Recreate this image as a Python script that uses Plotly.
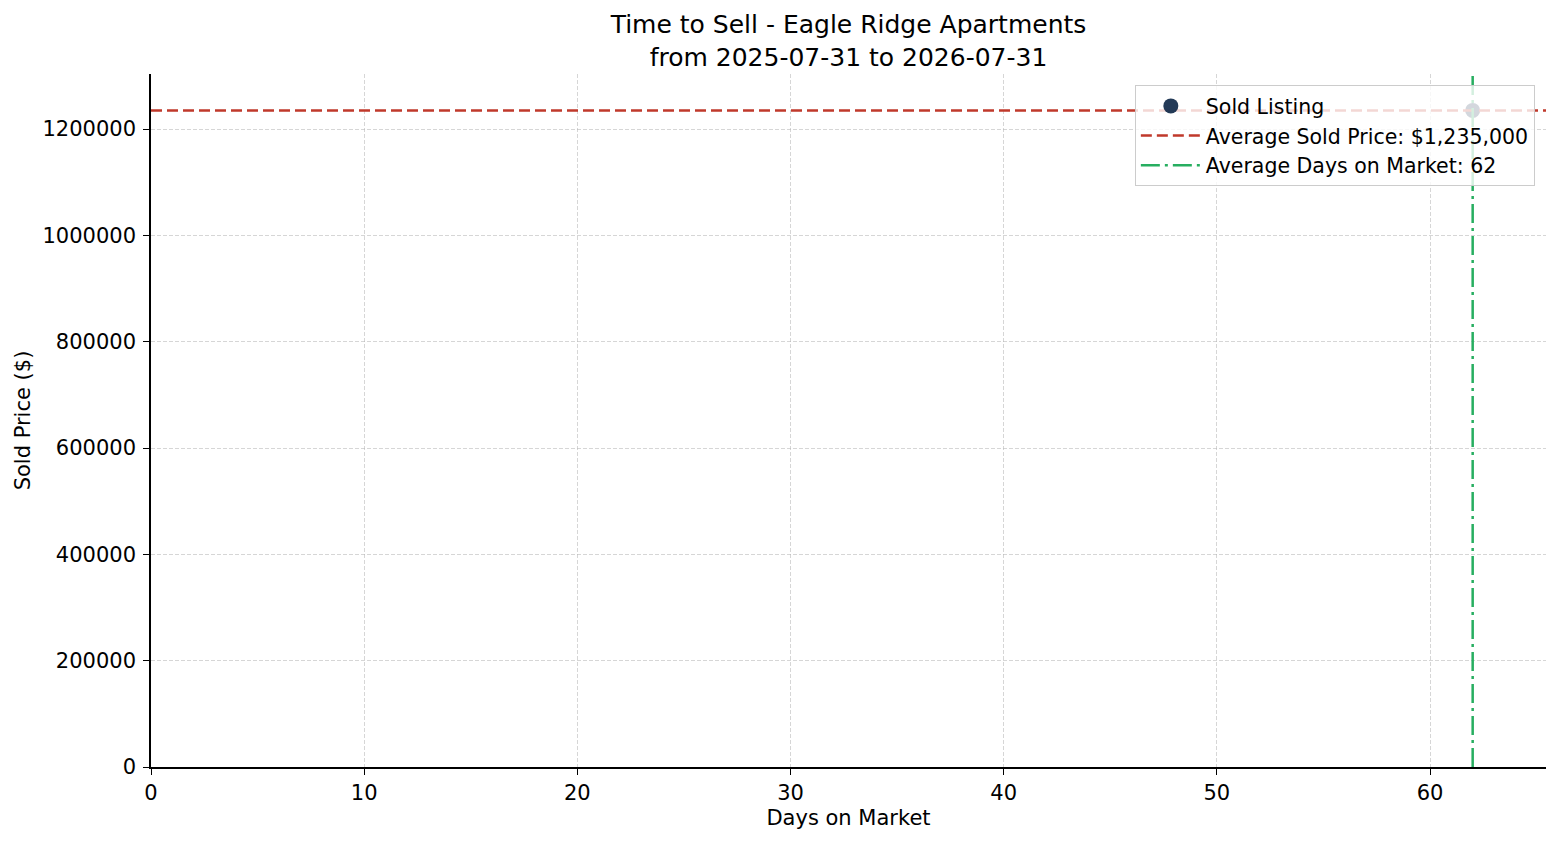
import numpy as np
import plotly.graph_objects as go

days_on_market = [62]
sold_prices = [1235000]
title_text = "Time to Sell - Eagle Ridge Apartments<br>from 2025-07-31 to 2026-07-31"

avg_price = float(np.mean(sold_prices))
avg_days = float(np.mean(days_on_market))

navy = "#0b2545"
red = "#c0392b"
green = "#27ae60"
font = "DejaVu Sans, Verdana, sans-serif"

fig = go.Figure()
fig.add_trace(go.Scatter(
    x=days_on_market, y=sold_prices, mode="markers", name="Sold Listing",
    marker=dict(color=navy, size=15, opacity=0.9, line=dict(width=0)),
    legendrank=1,
))
fig.add_hline(
    y=avg_price, line=dict(color=red, width=2.5, dash="11px,5px"),
    showlegend=True, name=f"Average Sold Price: ${avg_price:,.0f}", legendrank=2,
)
fig.add_vline(
    x=avg_days, line=dict(color=green, width=2.5, dash="19px,5px,3px,5px"),
    showlegend=True, name=f"Average Days on Market: {avg_days:.0f}", legendrank=3,
)

axis_common = dict(
    showline=True, linecolor="black", linewidth=1.6, mirror=False,
    ticks="outside", ticklen=6, tickwidth=1.4, tickcolor="black",
    showgrid=True, gridcolor="rgba(180,180,180,0.55)", griddash="4px,2px", gridwidth=0.8,
    zeroline=False, automargin=False,
    tickfont=dict(size=21, color="black", family=font),
    title_font=dict(size=21, color="black", family=font),
)
fig.update_xaxes(range=[0, 65.44], dtick=10, title_text="Days on Market",
                 title_standoff=6, **axis_common)
fig.update_yaxes(range=[0, 1303500], dtick=200000, tickformat="d",
                 ticklabelstandoff=3, title_text="Sold Price ($)",
                 title_standoff=6, **axis_common)

fig.update_layout(
    width=1560, height=845,
    margin=dict(l=143, r=22, t=66, b=86, autoexpand=False),
    paper_bgcolor="white", plot_bgcolor="white",
    font=dict(family=font, color="black"),
    title=dict(text=title_text, x=0.5, xref="paper", xanchor="center",
               y=1, yref="container", yanchor="top", pad=dict(t=25),
               font=dict(size=25, family=font, color="black")),
    legend=dict(
        x=0.992, y=0.984, xanchor="right", yanchor="top", itemwidth=60,
        bgcolor="rgba(255,255,255,0.8)", bordercolor="#cccccc", borderwidth=1,
        font=dict(size=20.5, family=font, color="black"),
    ),
    showlegend=True,
)

fig.write_html("out.html")
